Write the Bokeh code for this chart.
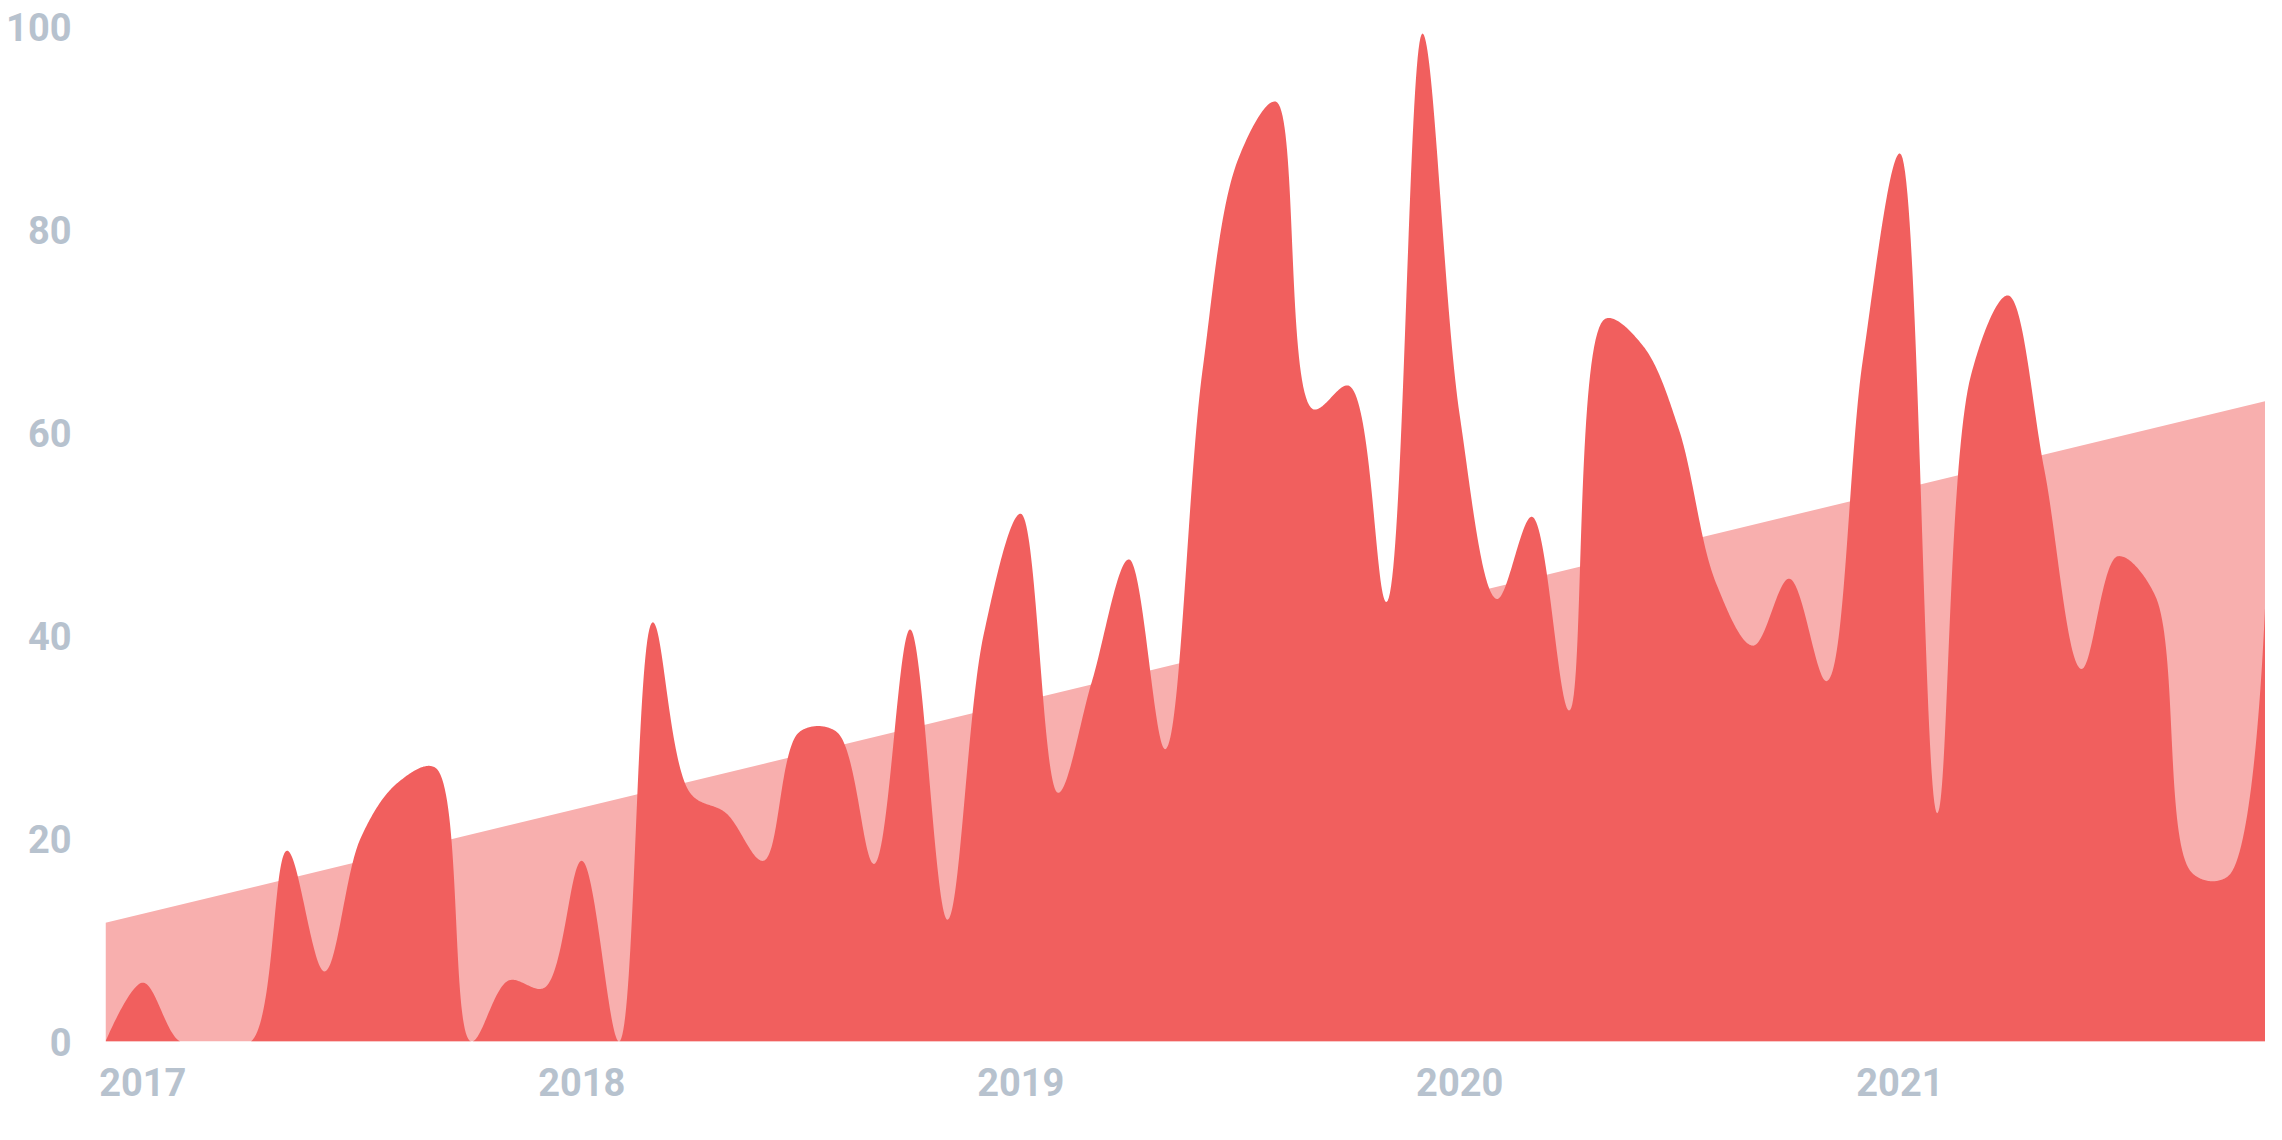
import numpy as np
import pandas as pd
from bokeh.plotting import figure
from bokeh.models import FixedTicker, DatetimeTickFormatter, Range1d
from bokeh.embed import file_html
from bokeh.resources import INLINE

# ---- data (monthly values, Dec 2016 .. Nov 2021) ----
months = pd.date_range("2016-12-01", periods=60, freq="MS")
values = [
    0, 5.8, 0, 0, 0, 18.8, 6.9, 20, 25.5, 27,
    0, 6.0, 5.3, 17.8, 0, 41.3, 24.5, 22.5, 17.8, 30.5,
    30.5, 17.5, 40.6, 12, 40, 52, 24.5, 35.4, 47.5, 28.8,
    66, 87, 92.6, 62.3, 64.6, 43.3, 99.3, 61.7, 43.6, 51.7,
    32.6, 71.2, 68.6, 60.4, 45.2, 39, 45.6, 35.5, 67, 87.5,
    22.5, 65.6, 73.5, 56.4, 36.7, 47.8, 44, 16.6, 16.3, 43.9,
]
trend = [11.7, 63.1]          # trend line value at first and last month
year_ticks = ["2017-01-01", "2018-01-01", "2019-01-01", "2020-01-01", "2021-01-01"]
y_ticks = [0, 20, 40, 60, 80, 100]

RED = "#F15F5E"
PINK = "#F8AFAE"
LABEL = "#B7C2CE"

W, H = 2265, 1121
LEFT, TOP, BOTTOM = 105, 26, 80
FRAME_W = W - LEFT
FRAME_H = H - TOP - BOTTOM

xm = months.values.astype("datetime64[ms]").astype("int64").astype(float)
yv = np.array(values, dtype=float)


def catmull_rom_centripetal(x, y, kx, ky, n=40):
    """d3.curveCatmullRom (alpha = 0.5), evaluated in screen units."""
    P = np.column_stack([(x - x[0]) * kx, y * ky])
    m = len(P)
    d = np.r_[0.0, np.hypot(*np.diff(P, axis=0).T), 0.0]   # d[i] = |P[i-1]P[i]|
    u = np.linspace(0, 1, n, endpoint=False)[:, None]
    out = []
    for i in range(m - 1):
        p1, p2 = P[i], P[i + 1]
        c1, c2 = p1.copy(), p2.copy()
        l01, l12, l23 = d[i], d[i + 1], d[i + 2] if i + 2 < m else 0.0
        if i > 0 and l01 > 1e-12:
            a = 2 * l01 + 3 * np.sqrt(l01) * np.sqrt(l12) + l12
            nn = 3 * np.sqrt(l01) * (np.sqrt(l01) + np.sqrt(l12))
            c1 = (p1 * a - P[i - 1] * l12 + p2 * l01) / nn
        if i + 2 < m and l23 > 1e-12:
            b = 2 * l23 + 3 * np.sqrt(l23) * np.sqrt(l12) + l12
            mm = 3 * np.sqrt(l23) * (np.sqrt(l23) + np.sqrt(l12))
            c2 = (p2 * b + p1 * l23 - P[i + 2] * l12) / mm
        out.append((1 - u) ** 3 * p1 + 3 * (1 - u) ** 2 * u * c1
                   + 3 * (1 - u) * u ** 2 * c2 + u ** 3 * p2)
    out.append(P[-1][None, :])
    S = np.vstack(out)
    return S[:, 0] / kx + x[0], S[:, 1] / ky


kx = FRAME_W / (xm[-1] - xm[0])
ky = FRAME_H / 100.0
sx, sy = catmull_rom_centripetal(xm, yv, kx, ky)
sx = np.clip(sx, xm[0], xm[-1])
sy = np.clip(sy, 0, None)

p = figure(width=W, height=H, x_axis_type="datetime",
           output_backend="svg", toolbar_location=None,
           x_range=Range1d(xm[0], xm[-1]), y_range=Range1d(0, 100),
           min_border_left=LEFT, min_border_right=0, min_border_top=TOP,
           min_border_bottom=BOTTOM)
p.outline_line_color = None
p.background_fill_color = "white"
p.border_fill_color = "white"
p.grid.visible = False

p.varea(x=[xm[0], xm[-1]], y1=[0, 0], y2=trend, fill_color=PINK)
p.varea(x=sx, y1=np.zeros_like(sy), y2=sy, fill_color=RED)

for ax in (p.xaxis, p.yaxis):
    ax.axis_line_color = None
    ax.major_tick_line_color = None
    ax.minor_tick_line_color = None
    ax.major_label_text_font = "Roboto"
    ax.major_label_text_font_style = "bold"
    ax.major_label_text_font_size = "38px"
    ax.major_label_text_color = LABEL

p.xaxis.ticker = FixedTicker(ticks=[pd.Timestamp(d).value / 1e6 for d in year_ticks])
p.xaxis.formatter = DatetimeTickFormatter(years="%Y", months="%Y", days="%Y")
p.xaxis.major_label_standoff = 20
p.yaxis.ticker = FixedTicker(ticks=y_ticks)
p.yaxis.major_label_standoff = 28

open("out.html", "w").write(file_html(p, INLINE))
